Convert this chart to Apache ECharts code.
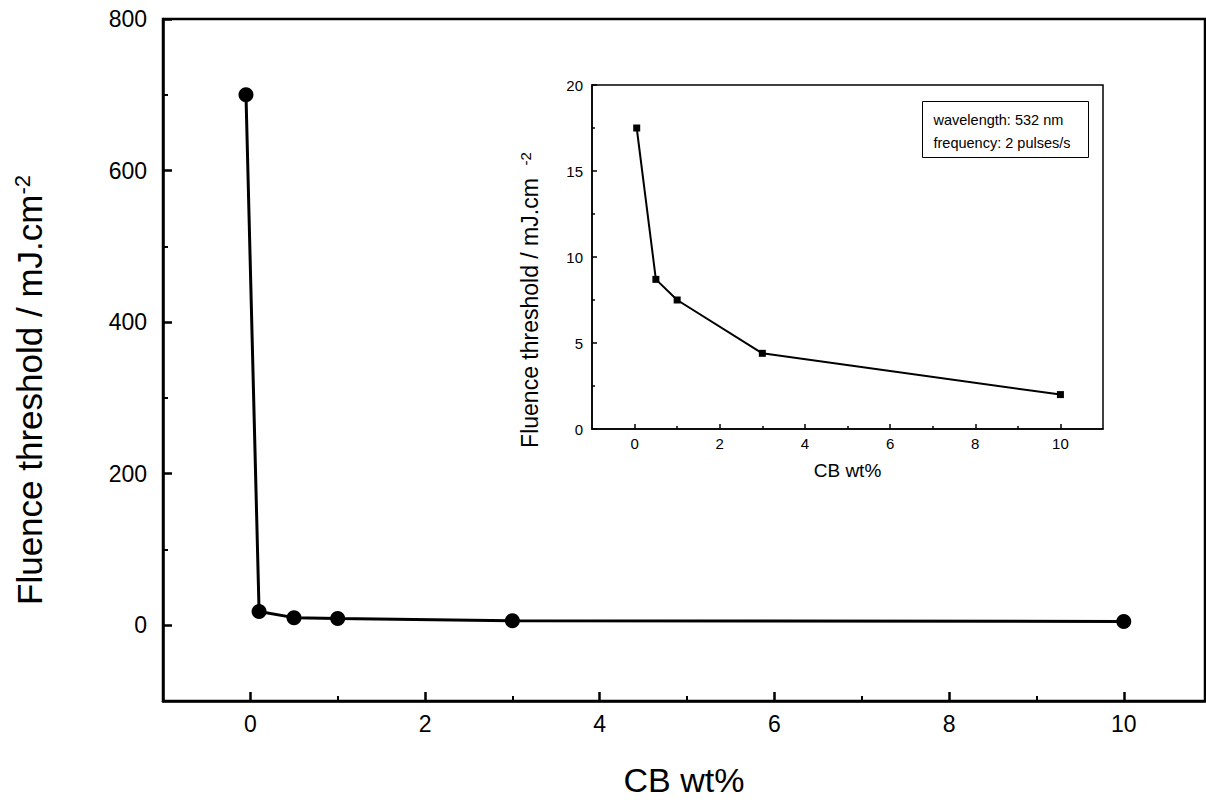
<!DOCTYPE html>
<html>
<head>
<meta charset="utf-8">
<script src="https://cdn.jsdelivr.net/npm/echarts@6/dist/echarts.min.js"></script>
<style>
  html, body { margin: 0; padding: 0; background: #fff; }
  #chart { width: 1206px; height: 802px; }
</style>
</head>
<body>
<div id="chart"></div>
<script>
(function() {
  var font = 'Liberation Sans, Arial, sans-serif';

  // main plot data
  var mainX = [-0.05, 0.1, 0.5, 1, 3, 10];
  var mainY = [700, 18, 10, 9, 6, 5];
  var mainXTicks = [0, 2, 4, 6, 8, 10];
  var mainXMinor = [1, 3, 5, 7, 9];
  var mainYTicks = [0, 200, 400, 600, 800];
  var mainYMinor = [-100, 100, 300, 500, 700];

  // inset data
  var insetX = [0.05, 0.5, 1, 3, 10];
  var insetY = [17.5, 8.7, 7.5, 4.4, 2.0];
  var insetXTicks = [0, 2, 4, 6, 8, 10];
  var insetXMinor = [1, 3, 5, 7, 9];
  var insetYTicks = [0, 5, 10, 15, 20];
  var insetYMinor = [2.5, 7.5, 12.5, 17.5];

  var noteLines = ['wavelength: 532 nm', 'frequency: 2 pulses/s'];

  function pairs(xs, ys) {
    return xs.map(function(x, i) { return [x, ys[i]]; });
  }

  function majorAxis(opt) {
    return {
      type: 'value',
      gridIndex: opt.grid,
      position: opt.position,
      min: opt.min,
      max: opt.max,
      name: opt.name,
      nameLocation: 'middle',
      nameGap: opt.nameGap,
      nameTextStyle: opt.nameStyle,
      axisLine: { show: true, onZero: false, lineStyle: { color: '#000', width: opt.lw } },
      axisTick: { show: true, inside: true, length: opt.tickLen, customValues: opt.ticks,
                  lineStyle: { color: '#000', width: opt.lw } },
      axisLabel: { show: true, customValues: opt.ticks, color: '#000', fontFamily: font,
                   fontSize: opt.fs, margin: opt.margin },
      splitLine: { show: false }
    };
  }

  function minorAxis(opt) {
    return {
      type: 'value',
      gridIndex: opt.grid,
      position: opt.position,
      min: opt.min,
      max: opt.max,
      axisLine: { show: false, onZero: false },
      axisTick: { show: true, inside: true, length: opt.tickLen, customValues: opt.ticks,
                  lineStyle: { color: '#000', width: opt.lw } },
      axisLabel: { show: false },
      splitLine: { show: false }
    };
  }

  var chart = echarts.init(document.getElementById('chart'), null, { renderer: 'svg' });
  chart.setOption({
    animation: false,
    backgroundColor: '#fff',
    grid: [
      { left: 163, top: 19, right: 1, bottom: 100, show: true, borderColor: '#000', borderWidth: 2.5 },
      { left: 592, top: 85, right: 103, bottom: 373, show: true, borderColor: '#000', borderWidth: 1.5 }
    ],
    xAxis: [
      majorAxis({ grid: 0, position: 'bottom', min: -1, max: 10.93, name: 'CB wt%', nameGap: 62,
        nameStyle: { fontFamily: font, fontSize: 34, color: '#000' },
        lw: 2.5, tickLen: 9, ticks: mainXTicks, fs: 23, margin: 11 }),
      minorAxis({ grid: 0, position: 'bottom', min: -1, max: 10.93, lw: 2, tickLen: 5, ticks: mainXMinor }),
      majorAxis({ grid: 1, position: 'bottom', min: -1, max: 11, name: 'CB wt%', nameGap: 32,
        nameStyle: { fontFamily: font, fontSize: 19, color: '#000' },
        lw: 1.5, tickLen: 5, ticks: insetXTicks, fs: 15, margin: 7 }),
      minorAxis({ grid: 1, position: 'bottom', min: -1, max: 11, lw: 1.5, tickLen: 3, ticks: insetXMinor })
    ],
    yAxis: [
      majorAxis({ grid: 0, position: 'left', min: -100, max: 800,
        name: 'Fluence threshold / mJ.cm{sup|-2}', nameGap: 116,
        nameStyle: { fontFamily: font, fontSize: 35, color: '#000', padding: [0, 60, 0, 0],
          rich: { sup: { fontFamily: font, fontSize: 22, color: '#000', verticalAlign: 'top', padding: [0, 0, 14, 0] } } },
        lw: 2.5, tickLen: 9, ticks: mainYTicks, fs: 23, margin: 16 }),
      minorAxis({ grid: 0, position: 'left', min: -100, max: 800, lw: 2, tickLen: 5, ticks: mainYMinor }),
      majorAxis({ grid: 1, position: 'left', min: 0, max: 20,
        name: 'Fluence threshold / mJ.cm  {sup|-2}', nameGap: 50,
        nameStyle: { fontFamily: font, fontSize: 23, color: '#000', padding: [0, 86, 0, 0],
          rich: { sup: { fontFamily: font, fontSize: 15, color: '#000', verticalAlign: 'top', padding: [0, 0, 9, 0] } } },
        lw: 1.5, tickLen: 5, ticks: insetYTicks, fs: 15, margin: 9 }),
      minorAxis({ grid: 1, position: 'left', min: 0, max: 20, lw: 1.5, tickLen: 3, ticks: insetYMinor })
    ],
    graphic: [{
      type: 'group',
      left: 922,
      top: 101,
      children: [
        { type: 'rect', shape: { x: 0, y: 0, width: 166, height: 56 },
          style: { fill: '#fff', stroke: '#000', lineWidth: 1 } },
        { type: 'text', x: 11, y: 7,
          style: { text: noteLines.join('\n'), fontFamily: font, fontSize: 14.5, lineHeight: 23, fill: '#000' } }
      ]
    }],
    series: [
      {
        type: 'line',
        xAxisIndex: 0,
        yAxisIndex: 0,
        data: pairs(mainX, mainY),
        symbol: 'circle',
        symbolSize: 15,
        itemStyle: { color: '#000' },
        lineStyle: { color: '#000', width: 3 },
        z: 5
      },
      {
        type: 'line',
        xAxisIndex: 2,
        yAxisIndex: 2,
        data: pairs(insetX, insetY),
        symbol: 'rect',
        symbolSize: 7,
        itemStyle: { color: '#000' },
        lineStyle: { color: '#000', width: 2 },
        z: 5
      }
    ]
  });
})();
</script>
</body>
</html>
